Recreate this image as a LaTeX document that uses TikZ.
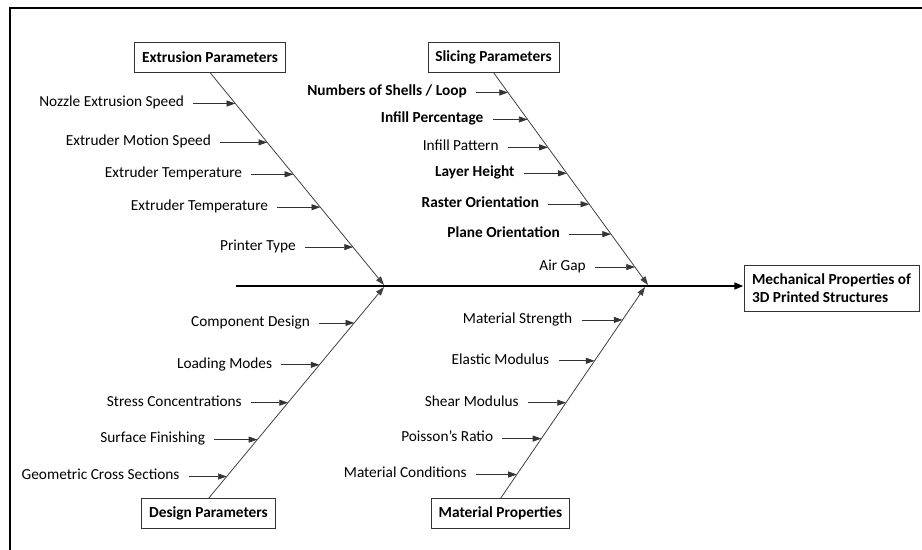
\documentclass[tikz,border=0pt]{standalone}
\usepackage{fontspec}
\setmainfont{Carlito}
\usetikzlibrary{arrows.meta,calc}

\begin{document}
\begin{tikzpicture}[x=0.75pt,y=-0.75pt,
  font=\fontsize{11.5}{13.5}\selectfont,
  catbox/.style={draw=black!80,line width=0.6pt,font=\fontsize{11.5}{14}\selectfont\bfseries,
    inner xsep=5.5pt,minimum height=22pt},
  cause/.style={anchor=east,inner xsep=6.75pt,inner ysep=0pt,text height=7pt,text depth=2pt},
  bone/.style={draw=black!75,line width=0.6pt,-{Triangle[length=6.5pt,width=4.5pt]}},
  sub/.style={draw=black!80,line width=0.5pt,-{Triangle[length=6.5pt,width=4.5pt]}}]
\useasboundingbox (0,0) rectangle (922,550);
% frame
\draw[line width=1.5pt] (10,550) -- (10,7.5) -- (922,7.5);
% categories and effect
\node[catbox] (ext) at (210,57.5) {Extrusion Parameters};
\node[catbox] (sli) at (493.5,57.5) {Slicing Parameters};
\node[catbox] (des) at (208.5,513.5) {Design Parameters};
\node[catbox] (mat) at (500.5,513.5) {Material Properties};
\node[catbox,align=left,inner xsep=6pt,minimum height=34.5pt] (eff) at (831.5,288)
  {Mechanical Properties of\\3D Printed Structures};
% spine
\coordinate (sp) at (236,286);
\draw[line width=1.8pt,-{Triangle[length=7pt,width=5pt]}] (sp) -- (sp -| eff.west);
% bones
\coordinate (exh) at (384,285);
\coordinate (slh) at (648,285);
\coordinate (deh) at (384,287);
\coordinate (mah) at (645,287);
\draw[bone] (ext.south) -- (exh);
\draw[bone] (sli.south) -- (slh);
\draw[bone] (des.north) -- (deh);
\draw[bone] (mat.north) -- (mah);
% extrusion causes
\foreach \y/\g/\txt [count=\i] in {103/51/{Nozzle Extrusion Speed},142/56/{Extruder Motion Speed},
    174/51/{Extruder Temperature},207/52/{Extruder Temperature},247/57/{Printer Type}} {
  \pgfmathsetmacro{\t}{(\y-72)/213}
  \path (ext.south) -- (exh) coordinate[pos=\t] (e\i);
  \node[cause] (ce\i) at ($(e\i)+(-\g+9,0)$) {\txt};
  \draw[sub] (ce\i.east) -- (e\i);
}
% slicing causes
\foreach \y/\g/\txt [count=\i] in {92/41/{\textbf{Numbers of Shells / Loop}},119/44/{\textbf{Infill Percentage}},
    147/49/{Infill Pattern},173/52/{\textbf{Layer Height}},204/50/{\textbf{Raster Orientation}},
    234/51/{\textbf{Plane Orientation}},267/49/{Air Gap}} {
  \pgfmathsetmacro{\t}{(\y-72)/213}
  \path (sli.south) -- (slh) coordinate[pos=\t] (s\i);
  \node[cause] (cs\i) at ($(s\i)+(-\g+9,0)$) {\txt};
  \draw[sub] (cs\i.east) -- (s\i);
}
% design causes
\foreach \y/\g/\txt [count=\i] in {323/44/{Component Design},365/47/{Loading Modes},
    403/46/{Stress Concentrations},440/52/{Surface Finishing},477/47/{Geometric Cross Sections}} {
  \pgfmathsetmacro{\t}{(499-\y)/212}
  \path (des.north) -- (deh) coordinate[pos=\t] (d\i);
  \node[cause] (cd\i) at ($(d\i)+(-\g+9,0)$) {\txt};
  \draw[sub] (cd\i.east) -- (d\i);
}
% material causes
\foreach \y/\g/\txt [count=\i] in {320/50/{Material Strength},361/45/{Elastic Modulus},
    403/47/{Shear Modulus},439/48/{Poisson’s Ratio},475/50/{Material Conditions}} {
  \pgfmathsetmacro{\t}{(499-\y)/212}
  \path (mat.north) -- (mah) coordinate[pos=\t] (m\i);
  \node[cause] (cm\i) at ($(m\i)+(-\g+9,0)$) {\txt};
  \draw[sub] (cm\i.east) -- (m\i);
}
\end{tikzpicture}
\end{document}
